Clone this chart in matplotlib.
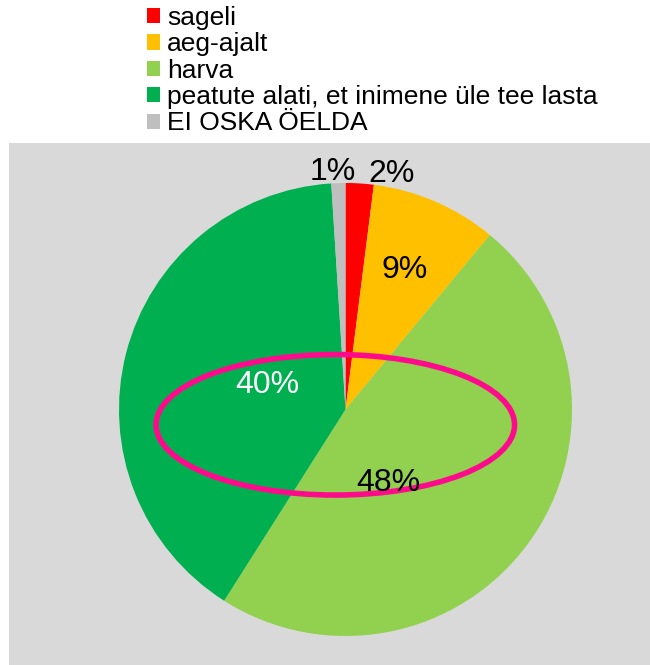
import matplotlib
matplotlib.use("Agg")
import matplotlib.pyplot as plt
from matplotlib.patches import Rectangle, Ellipse
import numpy as np

plt.rcParams['font.family'] = ['Liberation Sans', 'DejaVu Sans']

categories = ["sageli", "aeg-ajalt", "harva", "peatute alati, et inimene üle tee lasta", "EI OSKA ÖELDA"]
values = [2, 9, 48, 40, 1]
labels = ["2%", "9%", "48%", "40%", "1%"]
colors = ["#FF0000", "#FFC000", "#92D050", "#00B050", "#BFBFBF"]
label_colors = ["black", "black", "black", "white", "black"]
# label placement (angle in degrees, distance as fraction of radius)
label_angles = [79, 67, -60, 162.5, 93]
label_dist = [1.06, 0.67, 0.375, 0.36, 1.05]

W, H = 650, 665
fig = plt.figure(figsize=(W / 100, H / 100), dpi=100)
ax = fig.add_axes([0, 0, 1, 1])

# plot area background
ax.add_patch(Rectangle((9, 0), W - 9, H - 143, facecolor="#D9D9D9", edgecolor="none", zorder=0))

cx, cy, R = 345.5, H - 409.5, 226.5
wedges, _ = ax.pie(values, colors=colors, startangle=90, counterclock=False,
                   center=(cx, cy), radius=R, frame=True,
                   wedgeprops=dict(linewidth=0))
ax.set_xlim(0, W)
ax.set_ylim(0, H)
ax.axis('off')

for lab, ang, d, c in zip(labels, label_angles, label_dist, label_colors):
    a = np.deg2rad(ang)
    ax.text(cx + d * R * np.cos(a), cy + d * R * np.sin(a), lab, fontsize=23,
            color=c, ha='center', va='center', zorder=5)

ax.add_patch(Ellipse((335.3, H - 424.8), 358.5, 140.5, fill=False,
                     edgecolor="#FF0A8C", linewidth=4.0, zorder=4))

leg = fig.legend(wedges, categories, loc='upper left', bbox_to_anchor=(147 / W, 1 - 6 / H),
                 frameon=False, fontsize=19, handlelength=0.5, handleheight=0.5,
                 handletextpad=0.27, labelspacing=0.09, borderaxespad=0, borderpad=0)

fig.savefig("out.png", dpi=100)
